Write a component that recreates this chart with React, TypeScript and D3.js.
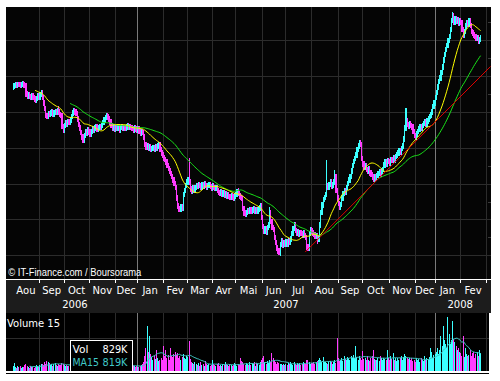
import React from 'react';
import * as d3 from 'd3';

// ---------- data ----------
const monthLabels = ['Aou','Sep','Oct','Nov','Dec','Jan','Fev','Mar','Avr','Mai','Jun','Jul','Aou','Sep','Oct','Nov','Dec','Jan','Fev'];
const monthYears = [2006,2006,2006,2006,2006,2007,2007,2007,2007,2007,2007,2007,2007,2007,2007,2007,2007,2008,2008];
const monthDays = [23,21,22,22,19,22,21,21,20,23,20,22,23,21,23,22,17,22,22];

const closes = [
  // Aug 2006
  6.72,6.74,6.76,6.75,6.77,6.76,6.74,6.76,6.78,6.75,6.73,
  6.50,6.45,6.47,
  6.44,6.41,6.46,6.40,6.36,
  6.32,6.38,
  6.45,6.42,6.48,6.55,
  6.40,6.25,6.10,
  5.90,5.88,5.95,5.93,
  5.97,6.00,5.94,5.98,6.02,5.99,
  6.08,
  6.00,5.93,5.90,
  5.60,5.48,
  5.62,5.70,5.66,5.74,5.70,5.78,
  5.88,5.97,6.04,6.00,
  5.95,
  5.80,5.65,5.55,5.42,5.30,5.22,
  5.35,5.45,5.40,5.50,5.44,5.38,5.46,5.52,5.48,
  5.55,5.58,5.52,5.56,5.60,5.57,5.62,
  5.70,5.78,5.85,5.90,5.86,5.80,
  5.72,5.62,5.55,5.58,5.52,5.56,
  5.54,5.58,5.50,5.56,5.60,5.53,5.57,5.55,
  5.58,5.62,5.56,5.60,5.57,
  5.54,5.50,5.55,5.52,5.48,5.53,
  // Jan 2007
  5.45,5.40,5.46,5.42,
  5.30,5.10,5.00,
  5.05,4.98,5.02,4.95,
  4.98,5.00,4.96,5.03,4.99,5.05,5.08,
  4.95,4.85,4.80,4.72,4.68,4.60,
  4.50,4.42,4.35,4.28,
  4.20,4.10,4.00,3.90,
  3.60,3.38,3.30,
  3.28,3.35,3.32,
  3.70,3.80,3.95,4.05,4.12,
  4.05,
  3.85,3.78,3.88,3.82,3.90,
  3.95,3.92,3.98,3.94,3.90,3.96,3.93,3.99,3.95,3.91,3.94,3.97,3.92,3.88,3.93,3.90,3.86,3.89,
  3.80,3.76,3.72,3.78,3.70,3.74,3.68,3.72,
  3.66,3.70,3.64,3.62,3.67,3.63,3.60,3.65,3.70,
  3.80,
  3.72,3.66,3.62,3.58,
  3.30,3.18,3.14,3.20,
  3.25,3.22,3.28,3.24,
  3.26,3.30,3.24,3.28,3.22,3.27,3.32,
  3.38,
  3.05,2.80,2.68,
  2.75,2.65,2.78,2.85,
  3.20,
  2.95,2.78,2.72,
  2.50,2.35,2.20,2.12,2.05,
  2.30,2.40,2.28,2.36,
  2.32,2.38,2.30,2.42,2.36,2.45,
  2.60,2.75,2.85,2.70,
  2.62,2.66,2.58,2.64,2.60,
  2.56,2.62,2.55,2.50,
  2.25,2.20,
  2.60,2.72,2.68,2.62,
  2.58,2.52,2.55,
  2.40,2.45,
  2.85,3.20,3.40,
  3.55,3.62,3.70,
  3.95,
  3.90,3.98,4.05,3.92,
  3.96,4.05,4.20,
  3.80,3.60,3.45,3.35,3.42,
  3.60,3.72,3.80,3.75,
  3.90,4.00,4.10,4.20,4.35,
  4.50,4.62,4.70,4.80,
  4.95,5.05,5.15,5.10,
  4.70,4.55,4.45,4.50,
  4.40,4.35,4.42,4.30,4.25,
  4.18,4.12,4.20,4.15,4.22,
  4.28,4.32,4.26,4.35,4.40,
  4.52,4.60,4.55,4.65,4.62,4.58,
  4.68,4.64,4.72,4.66,4.75,4.80,
  4.85,4.92,4.88,4.98,5.05,
  5.25,5.55,5.75,5.65,
  5.60,5.68,5.62,5.58,
  5.45,5.35,5.30,5.38,
  5.45,5.52,5.58,5.55,
  5.62,5.68,5.72,5.66,5.75,
  5.80,5.88,5.92,6.00,
  6.15,6.25,6.40,
  // Jan 2008
  6.55,6.70,6.85,
  6.95,7.10,7.25,
  7.45,7.60,7.75,
  7.85,8.00,8.10,
  8.30,8.55,8.68,
  8.50,8.60,8.52,8.58,8.48,8.55,8.50,
  8.30,8.15,8.25,8.40,
  8.50,8.45,8.55,8.42,
  8.25,8.20,8.15,8.10,8.05,8.08,
  7.98,8.02,8.06,
];

const volumes = [
  220,360,150,120,180,140,200,110,160,130,250,300,180,150,120,200,170,140,110,160,230,190,150,260,
  280,320,250,380,300,460,420,350,260,300,220,280,330,240,200,310,270,230,360,290,
  240,200,260,180,220,
  210,260,180,300,240,190,350,280,220,170,
  260,310,200,240,180,290,230,200,260,330,
  210,180,250,220,300,190,240,280,200,170,
  230,260,310,220,190,250,200,280,240,180,
  210,260,230,190,300,220,170,240,260,200,
  180,230,210,250,190,
  180,150,220,160,140,200,260,300,380,
  700,1100,2200,900,1700,800,
  650,500,700,550,1000,600,450,520,600,480,1200,700,
  1000,600,750,500,1100,700,650,800,900,750,850,600,700,500,650,800,600,550,700,650,
  1450,
  550,400,350,300,420,280,250,330,200,380,
  260,300,220,450,280,240,320,180,260,500,
  300,240,200,280,350,220,260,190,300,240,
  420,280,230,200,310,260,180,240,360,280,
  220,300,250,600,450,380,300,260,340,
  300,260,380,240,320,280,400,220,350,300,
  260,420,480,600,700,380,300,450,360,520,
  400,850,620,480,380,300,420,350,280,320,
  260,300,240,
  300,260,350,280,400,320,250,380,300,270,340,290,360,240,310,420,350,280,480,520,380,300,340,
  350,420,300,380,450,520,600,480,400,660,380,420,350,300,400,450,380,320,420,500,360,1580,600,450,
  500,620,450,700,550,480,650,600,520,700,
  580,750,620,1180,650,500,720,600,480,970,
  550,620,480,700,520,450,600,680,1020,550,
  480,520,600,450,700,580,500,620,550,480,
  1020,600,520,680,550,870,500,620,450,580,
  520,600,700,480,650,800,700,620,550,600,
  500,580,450,
  500,420,600,480,550,380,620,500,450,700,520,600,480,650,1120,900,620,750,800,
  900,1100,800,1000,1700,1200,2200,1500,1300,1100,
  2650,
  1800,1300,1500,2450,1550,1400,1200,1000,1100,900,850,
  700,1700,
  650,1100,800,690,750,1000,700,850,900,600,800,920,700,1000,829,
];

const highOverrides: [number, number][] = [[38, 6.12], [151, 4.71], [192, 3.86], [220, 3.36], [269, 4.66], [276, 4.38], [297, 5.22], [337, 6.11], [377, 8.79]];
const lowOverrides: [number, number][] = [[142, 3.2], [228, 2.0], [252, 2.14], [262, 2.36]];
const trendDays = [251, 410];
const trendPrices = [2.09, 7.27];
const priceTicks = [2, 3, 4, 5, 6, 7, 8];
const priceMinorTicks = [2.5, 3.5, 4.5, 5.5, 6.5, 7.5, 8.5];
const volumeGridTicks = [1600];

// ---------- helpers ----------
function movingAverage(values: number[], n: number): [number, number][] {
  const out: [number, number][] = [];
  for (let i = n - 1; i < values.length; i++) {
    out.push([i, d3.mean(values.slice(i - n + 1, i + 1)) as number]);
  }
  return out;
}

const W = 500, H = 381;
const L = 6, R = 491, TOP = 7, AXIS_Y = 279, VTOP = 313, VBASE = 370;
const UP = '#3cffff', DOWN = '#ff3cff', FLAT = '#ff2020';
const WICK = 0.075;

export default function App() {
  const x = d3.scaleLinear().domain([-5.6, 410.4]).range([L, R]);
  const y = d3.scaleLinear().domain([2, 8]).range([255.3, 40.3]);
  const yv = d3.scaleLinear().domain([0, 2850]).range([VBASE, VBASE - 57]);

  const starts: number[] = [];
  let acc = 0;
  monthDays.forEach((d) => { starts.push(acc); acc += d; });
  const ends = starts.map((s, k) => s + monthDays[k]);
  const boundaries = starts.slice(1).concat([acc]);

  const highMap = new Map(highOverrides);
  const lowMap = new Map(lowOverrides);

  const opens = closes.map((c, i) => (i === 0 ? c - 0.02 : closes[i - 1]));
  const colorOf = (i: number) => closes[i] > opens[i] ? UP : closes[i] < opens[i] ? DOWN : FLAT;

  const ma20 = movingAverage(closes, 20);
  const ma50 = movingAverage(closes, 50);
  const vma15 = movingAverage(volumes, 15);

  const line = d3.line<[number, number]>().x((d) => x(d[0]) + 0.5).y((d) => y(d[1]));
  const vline = d3.line<[number, number]>().x((d) => x(d[0]) + 0.5).y((d) => yv(d[1]));

  const lastVol = volumes[volumes.length - 1];
  const lastVma = vma15[vma15.length - 1][1];

  const years = Array.from(new Set(monthYears));
  const yearSpans = years.map((yr) => {
    const ks = monthYears.map((m, k) => (m === yr ? k : -1)).filter((k) => k >= 0);
    const a = Math.max(L, x(starts[ks[0]]));
    const b = Math.min(R, x(ends[ks[ks.length - 1]]));
    return { yr, cx: (a + b) / 2 };
  });

  const isJan = (bIdx: number) => monthLabels[bIdx + 1] === 'Jan';

  const font = '"DejaVu Sans", Verdana, sans-serif';

  return (
    <svg width={W} height={H} style={{ position: 'absolute', left: 0, top: 0, background: '#fff' }}>
      <defs>
        <clipPath id="mainClip"><rect x={L} y={TOP} width={R - L} height={AXIS_Y - TOP} /></clipPath>
        <clipPath id="volClip"><rect x={L} y={VTOP} width={R - L} height={VBASE - VTOP + 1} /></clipPath>
      </defs>

      <rect x={L} y={TOP} width={R - L} height={AXIS_Y - TOP} fill="#050505" />
      <g shapeRendering="crispEdges">
        {priceTicks.map((p) => (
          <line key={'h' + p} x1={L} x2={R} y1={Math.round(y(p)) + 0.5} y2={Math.round(y(p)) + 0.5} stroke="#2c2c2c" />
        ))}
        {priceMinorTicks.map((p) => (
          <line key={'m' + p} x1={R - 3} x2={R} y1={Math.round(y(p)) + 0.5} y2={Math.round(y(p)) + 0.5} stroke="#3a3a3a" />
        ))}
        {boundaries.map((b, k) => (
          <line key={'v' + k} x1={Math.round(x(b)) + 0.5} x2={Math.round(x(b)) + 0.5} y1={TOP} y2={AXIS_Y}
            stroke={isJan(k) ? '#7a7a7a' : '#2c2c2c'} />
        ))}
      </g>

      <text x={8.3} y={275.5} fill="#fff" fontFamily='"Liberation Sans", Arial, sans-serif' fontSize={10}
        textLength={133} lengthAdjust="spacingAndGlyphs">© IT-Finance.com / Boursorama</text>

      <g clipPath="url(#mainClip)">
        <g shapeRendering="crispEdges">
          {closes.map((c, i) => {
            const o = opens[i];
            const hi = highMap.has(i) ? (highMap.get(i) as number) : Math.max(o, c) + WICK;
            const lo = lowMap.has(i) ? (lowMap.get(i) as number) : Math.min(o, c) - WICK;
            const x0 = Math.round(x(i));
            const x1 = Math.round(x(i + 1));
            const yt = Math.round(y(hi));
            const yb = Math.round(y(lo));
            return <rect key={i} x={x0} y={yt} width={Math.max(1, x1 - x0)} height={Math.max(1, yb - yt)} fill={colorOf(i)} />;
          })}
        </g>
        <path d={line(ma50) || ''} fill="none" stroke="#19e619" strokeWidth={1} />
        <path d={line(ma20) || ''} fill="none" stroke="#ffff00" strokeWidth={1} />
        <line x1={x(trendDays[0])} y1={y(trendPrices[0])} x2={x(trendDays[1])} y2={y(trendPrices[1])} stroke="#e00000" strokeWidth={1} />
      </g>

      <rect x={L} y={AXIS_Y + 1} width={R - L} height={VTOP - AXIS_Y - 1} fill="#1c1c1c" />
      <line x1={L} x2={R} y1={AXIS_Y + 0.5} y2={AXIS_Y + 0.5} stroke="#fff" shapeRendering="crispEdges" />
      <g shapeRendering="crispEdges">
        {boundaries.map((b, k) => (
          <line key={'t' + k} x1={Math.round(x(b)) + 0.5} x2={Math.round(x(b)) + 0.5} y1={AXIS_Y + 1} y2={AXIS_Y + 4} stroke="#fff" />
        ))}
      </g>
      {monthLabels.map((m, k) => {
        const a = Math.max(L, x(starts[k]));
        const b = Math.min(R, x(ends[k]));
        return (
          <text key={'ml' + k} x={(a + b) / 2} y={294} fill="#fff" fontFamily={font} fontSize={10} textAnchor="middle">{m}</text>
        );
      })}
      {yearSpans.map((s) => (
        <text key={'yr' + s.yr} x={s.cx} y={307.5} fill="#fff" fontFamily={font} fontSize={10} textAnchor="middle">{s.yr}</text>
      ))}

      <rect x={L} y={VTOP} width={R - 2 - L} height={374 - VTOP} fill="#000" />
      <g shapeRendering="crispEdges">
        {volumeGridTicks.map((v) => (
          <line key={'vg' + v} x1={L} x2={R - 2} y1={Math.round(yv(v)) + 0.5} y2={Math.round(yv(v)) + 0.5} stroke="#2c2c2c" />
        ))}
        {boundaries.map((b, k) => (
          <line key={'vv' + k} x1={Math.round(x(b)) + 0.5} x2={Math.round(x(b)) + 0.5} y1={VTOP} y2={VBASE + 1}
            stroke={isJan(k) ? '#7a7a7a' : '#2c2c2c'} />
        ))}
      </g>
      <g clipPath="url(#volClip)" shapeRendering="crispEdges">
        {volumes.map((v, i) => {
          const x0 = Math.round(x(i));
          const yt = Math.round(yv(v));
          return <rect key={'vb' + i} x={x0} y={yt} width={1} height={Math.max(1, VBASE + 1 - yt)} fill={colorOf(i)} />;
        })}
      </g>
      <path d={vline(vma15) || ''} fill="none" stroke="#3fc4c4" strokeWidth={1} clipPath="url(#volClip)" />
      <text x={7} y={326.7} fill="#fff" fontFamily={font} fontSize={10}>Volume 15</text>

      <rect x={70.5} y={340.5} width={62} height={31} fill="#000" stroke="#fff" strokeWidth={1} />
      <text x={72.5} y={352.7} fill="#fff" fontFamily={font} fontSize={10} textLength={16} lengthAdjust="spacingAndGlyphs">Vol</text>
      <text x={102.5} y={352.7} fill="#fff" fontFamily={font} fontSize={10} textLength={25} lengthAdjust="spacingAndGlyphs">{`${Math.round(lastVol)}K`}</text>
      <text x={72.5} y={366} fill="#40c8c8" fontFamily={font} fontSize={10} textLength={26.5} lengthAdjust="spacingAndGlyphs">MA15</text>
      <text x={102.5} y={366} fill="#40c8c8" fontFamily={font} fontSize={10} textLength={25} lengthAdjust="spacingAndGlyphs">{`${Math.round(lastVma)}K`}</text>

      <line x1={L} x2={R} y1={372} y2={372} stroke="#fff" strokeWidth={2} shapeRendering="crispEdges" />
    </svg>
  );
}
